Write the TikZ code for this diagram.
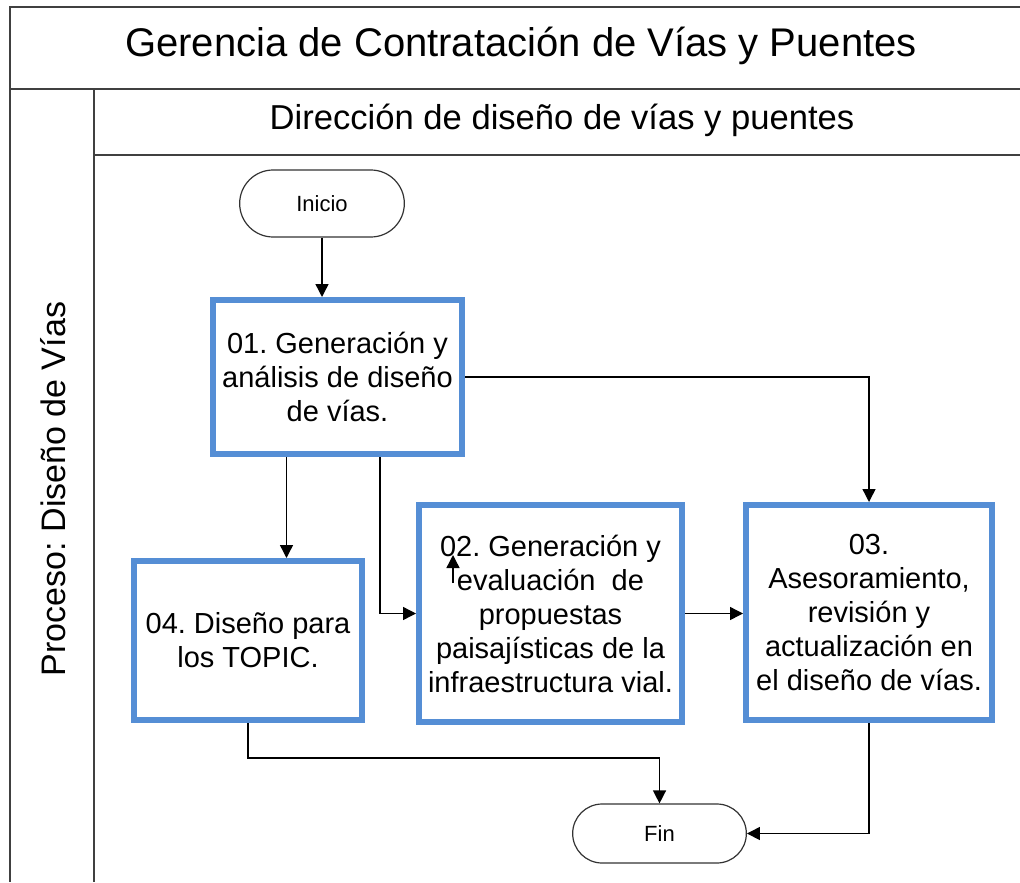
\documentclass[tikz,border=0pt]{standalone}
\usepackage{fontspec}
\setmainfont{Liberation Sans}
\usetikzlibrary{arrows.meta,shapes.misc,calc}

\definecolor{azulcaja}{RGB}{85,142,213}
\definecolor{marco}{RGB}{64,64,64}

\tikzset{
  caja/.style={draw=azulcaja, line width=3pt, align=center, inner sep=2pt,
               font=\fontsize{14.5}{17}\selectfont},
  terminal/.style={draw=black!80, line width=0.6pt, rounded rectangle,
               font=\fontsize{11}{13}\selectfont},
  flecha/.style={draw=black, line width=0.7pt, -{Triangle[length=6.5pt,width=6.5pt]}}
}

\begin{document}
\frenchspacing
\begin{tikzpicture}[x=0.5pt, y=-0.5pt]
  \useasboundingbox (0,0) rectangle (1020,882);

  % marco y carriles
  \draw[marco, line width=1pt] (1020,7) -- (10,7) -- (10,882);
  \draw[marco, line width=1pt] (10,89) -- (1020,89);
  \draw[marco, line width=1pt] (94,89) -- (94,882);
  \draw[marco, line width=1pt] (94,155) -- (1020,155);

  \node (gerencia) at (521,46) {\fontsize{20}{24}\selectfont Gerencia de Contratación de Vías y Puentes};
  \node (direccion) at (562,120) {\fontsize{17.3}{20}\selectfont Dirección de diseño de vías y puentes};
  \node[rotate=90] (proceso) at (53,489) {\fontsize{17}{20}\selectfont Proceso: Diseño de Vías};

  % nodos
  \node[terminal, minimum width=89pt, minimum height=33.5pt] (inicio) at (322,203.5) {Inicio};
  \node[caja, minimum width=124.5pt, minimum height=77pt] (g01) at (337.5,377)
    {01. Generación y\\análisis de diseño\\de vías.};
  \node[caja, minimum width=114pt, minimum height=79.5pt] (g04) at (248,640.5)
    {04. Diseño para\\los TOPIC.};
  \node[caja, minimum width=131.5pt, minimum height=108.5pt] (g02) at (550.5,613.5)
    {02. Generación y\\evaluación\ \ de\\propuestas\\paisajísticas de la\\infraestructura vial.};
  \node[caja, minimum width=123pt, minimum height=107.5pt] (g03) at (869,612.5)
    {03.\\Asesoramiento,\\revisión y\\actualización en\\el diseño de vías.};
  \node[terminal, minimum width=93.5pt, minimum height=29.5pt] (fin) at (659.5,833.5) {Fin};

  \coordinate (s04) at ($(g01.south west)!0.3!(g01.south east)$);
  \coordinate (s02) at ($(g01.south west)!0.667!(g01.south east)$);
  \coordinate (m1) at (453,583);
  \coordinate (m2) at (453,555);

  % conectores
  \draw[flecha] (inicio.south) -- (inicio.south |- g01.north);
  \draw[flecha] (g01.east) -| (g03.north);
  \draw[flecha] (s04) -- (s04 |- g04.north);
  \draw[flecha] (s02) |- (g02.west);
  \draw[flecha] (g02.east) -- (g02.east -| g03.west);
  \draw[flecha] (g04.south) -- ++(0,35) -| (fin.north);
  \draw[flecha] (g03.south) |- (fin.east);
  \draw[flecha] (m1) -- (m2);
\end{tikzpicture}
\end{document}
